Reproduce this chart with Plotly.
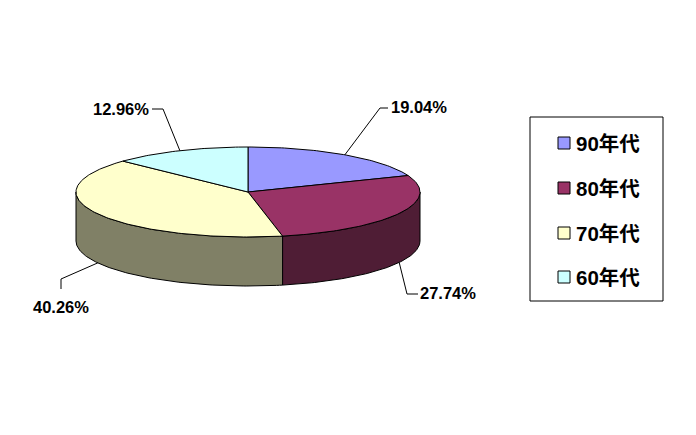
'''
Tilted 3D style pie, drawn on a hidden x/y axis that runs in page pixels
'''
import numpy as np
import plotly.graph_objects as go

### Data ###
decades     = ["90年代", "80年代", "70年代", "60年代"]
shares      = [19.04, 27.74, 40.26, 12.96]
top_colors  = ["#9999FF", "#993366", "#FFFFCC", "#CCFFFF"]
side_colors = ["#4D4D80", "#4F1D35", "#808066", "#668080"]

### Layout constants ###
WIDTH, HEIGHT = 696, 435
CX, CY  = 248, 192      # centre of the top face
RX, RY  = 172, 45       # radii of the top face
DEPTH   = 49            # thickness of the pie
FONT    = "Liberation Sans, Noto Sans CJK SC, sans-serif"

# elbow of each leader line, then where it stops, then the label anchor
leader_elbow = [(380, 108), (407, 294), (61, 279), (163, 109)]
leader_end   = [(388, 108), (418, 294), (61, 289), (152, 109)]
label_pos    = [(389, 107, "left"), (418, 293, "left"), (61, 307, "center"), (151, 109, "right")]

# legend
LEGEND_BOX = (530, 117, 663, 301)
legend_y   = [143, 188, 233, 277]
LEGEND_MARK_X = 564
LEGEND_TEXT_X = 574


def rim(angle, drop=0):
    # angle in degrees, clockwise from 12 o'clock
    a = np.radians(angle)
    return CX + RX * np.sin(a), CY - RY * np.cos(a) + drop


def arc(start, stop, drop=0):
    n = max(int(abs(stop - start)), 2)
    return rim(np.linspace(start, stop, n), drop)


ends   = np.cumsum(shares) / sum(shares) * 360
starts = np.concatenate([[0], ends[:-1]])

fig = go.Figure()
outline = dict(color="black", width=1)

### Side walls, only the part facing the viewer (90 to 270 degrees) ###
for start, stop, col in zip(starts, ends, side_colors):
    a, b = max(start, 90), min(stop, 270)
    if a >= b:
        continue
    x1, y1 = arc(a, b)
    x2, y2 = arc(b, a, DEPTH)
    fig.add_trace(go.Scatter(x=np.r_[x1, x2, x1[0]], y=np.r_[y1, y2, y1[0]], mode="lines",
                             fill="toself", fillcolor=col, line=outline, hoverinfo="skip"))

### Top face ###
for name, start, stop, col in zip(decades, starts, ends, top_colors):
    x1, y1 = arc(start, stop)
    fig.add_trace(go.Scatter(x=np.r_[CX, x1, CX], y=np.r_[CY, y1, CY], mode="lines", name=name,
                             fill="toself", fillcolor=col, line=outline))

### Leader lines and percent labels ###
mids = (starts + ends) / 2
for i, share in enumerate(shares):
    drop = DEPTH if 90 < mids[i] < 270 else 0
    x0, y0 = rim(mids[i], drop)
    fig.add_trace(go.Scatter(x=[x0, leader_elbow[i][0], leader_end[i][0]],
                             y=[y0, leader_elbow[i][1], leader_end[i][1]],
                             mode="lines", line=outline, hoverinfo="skip"))
    fig.add_annotation(x=label_pos[i][0], y=label_pos[i][1], xanchor=label_pos[i][2], yanchor="middle",
                       text="<b>{:.2f}%</b>".format(share), showarrow=False,
                       font=dict(family=FONT, size=16.5, color="black"))

### Legend ###
fig.add_shape(type="rect", x0=LEGEND_BOX[0], y0=LEGEND_BOX[1], x1=LEGEND_BOX[2], y1=LEGEND_BOX[3],
              line=outline, fillcolor="white", layer="below")
fig.add_trace(go.Scatter(x=[LEGEND_MARK_X] * len(decades), y=legend_y, mode="markers", hoverinfo="skip",
                         marker=dict(symbol="square", size=12, color=top_colors, line=outline)))
for name, y in zip(decades, legend_y):
    fig.add_annotation(x=LEGEND_TEXT_X, y=y, xanchor="left", yanchor="middle", text="<b>{}</b>".format(name),
                       showarrow=False, font=dict(family=FONT, size=20.5, color="black"))

fig.update_xaxes(range=[0, WIDTH], visible=False)
fig.update_yaxes(range=[HEIGHT, 0], visible=False)
fig.update_layout(width=WIDTH, height=HEIGHT, margin={"r": 0, "t": 0, "l": 0, "b": 0},
                  showlegend=False, plot_bgcolor="white", paper_bgcolor="white")
# the page has a default 8px body margin, drop it so the pixels line up
fig.write_html("out.html", config={"displayModeBar": False}, post_script="document.body.style.margin='0';")
